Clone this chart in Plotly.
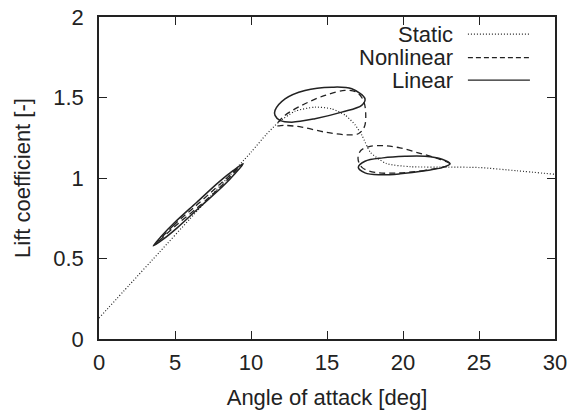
import plotly.graph_objects as go

# Static polar
static_x = [0, 2, 4, 6, 8, 10, 11, 11.8, 12.9, 14.2, 15.3, 16.2, 16.85, 17.3, 17.85, 18.9, 20.5, 23, 25, 27.5, 30]
static_y = [0.13, 0.336, 0.542, 0.748, 0.954, 1.16, 1.27, 1.345, 1.415, 1.44, 1.43, 1.39, 1.33, 1.265, 1.16, 1.09, 1.07, 1.068, 1.065, 1.045, 1.023]

# Nonlinear loops (three cases)
nl1_x = [3.75, 4.9, 6.5, 8.0, 9.2, 8.1, 6.6, 5.0, 3.75]
nl1_y = [0.592, 0.705, 0.838, 0.965, 1.068, 0.955, 0.826, 0.700, 0.592]
nl2_x = [11.69, 12.24, 13.55, 14.87, 16.18, 16.95, 17.4, 17.55, 17.45, 17.06, 16.18, 14.87, 13.34, 12.24, 11.69]
nl2_y = [1.327, 1.389, 1.461, 1.513, 1.544, 1.533, 1.48, 1.389, 1.316, 1.275, 1.269, 1.285, 1.316, 1.327, 1.327]
nl3_x = [23.09, 21.45, 19.80, 18.16, 17.30, 17.04, 17.24, 17.83, 18.82, 19.80, 21.12, 22.43, 23.09]
nl3_y = [1.085, 1.048, 1.032, 1.035, 1.066, 1.122, 1.172, 1.197, 1.200, 1.187, 1.153, 1.116, 1.085]

# Linear loops (three cases)
li1_x = [3.57, 4.10, 4.94, 6.42, 7.90, 8.84, 9.49, 8.97, 8.13, 6.64, 5.16, 4.23, 3.57]
li1_y = [0.578, 0.638, 0.720, 0.848, 0.976, 1.047, 1.089, 1.030, 0.947, 0.820, 0.692, 0.620, 0.578]
li2_x = [15.31, 16.63, 17.5, 17.28, 15.97, 14.21, 12.68, 11.91, 11.58, 11.58, 12.24, 13.55, 15.31]
li2_y = [1.564, 1.554, 1.492, 1.451, 1.409, 1.368, 1.347, 1.358, 1.389, 1.420, 1.492, 1.544, 1.564]
li3_x = [20.13, 21.45, 22.57, 23.09, 22.63, 21.45, 19.80, 18.49, 17.5, 17.06, 17.5, 18.68, 20.13]
li3_y = [1.135, 1.135, 1.116, 1.089, 1.066, 1.045, 1.026, 1.020, 1.032, 1.066, 1.104, 1.125, 1.135]

legend_labels = ["Static", "Nonlinear", "Linear"]

INK = "#222222"
FONT = "Liberation Sans, Arial, Helvetica, sans-serif"
FS = 22

fig = go.Figure()
fig.add_trace(go.Scatter(x=static_x, y=static_y, mode="lines",
                         line=dict(color=INK, width=1.2, dash="1px,2px", shape="spline", smoothing=0.6),
                         showlegend=False))
for xs, ys in [(nl1_x, nl1_y), (nl2_x, nl2_y), (nl3_x, nl3_y)]:
    fig.add_trace(go.Scatter(x=xs, y=ys, mode="lines",
                             line=dict(color=INK, width=1.3, dash="6px,4px", shape="spline", smoothing=1.0),
                             showlegend=False))
for xs, ys in [(li1_x, li1_y), (li2_x, li2_y), (li3_x, li3_y)]:
    fig.add_trace(go.Scatter(x=xs, y=ys, mode="lines",
                             line=dict(color=INK, width=1.5, shape="spline", smoothing=1.0),
                             showlegend=False))

# gnuplot-style legend (text right, sample left->right)
leg_y = [0.947, 0.874, 0.804]
dashes = ["1px,2px", "5px,3px", "solid"]
for lab, yy, d in zip(legend_labels, leg_y, dashes):
    fig.add_annotation(x=0.781, y=yy, xref="paper", yref="paper", text=lab,
                       showarrow=False, xanchor="right", yanchor="middle",
                       font=dict(size=FS, color=INK, family=FONT))
    fig.add_shape(type="line", xref="paper", yref="paper", x0=0.809, x1=0.945, y0=yy, y1=yy,
                  line=dict(color=INK, width=1.2, dash=d))

axis_common = dict(showline=True, linecolor=INK, linewidth=1.5, mirror="ticks",
                   ticks="inside", ticklen=8, tickwidth=1.2, tickcolor=INK,
                   showgrid=False, zeroline=False, automargin=False,
                   tickfont=dict(size=FS, color=INK, family=FONT))
fig.update_xaxes(range=[0, 30], tickvals=[0, 5, 10, 15, 20, 25, 30],
                 title=dict(text="Angle of attack [deg]", font=dict(size=FS, color=INK, family=FONT), standoff=16),
                 ticklabelstandoff=3, **axis_common)
fig.update_yaxes(range=[0, 2], tickvals=[0, 0.5, 1, 1.5, 2], ticktext=["0", "0.5", "1", "1.5", "2"],
                 title=dict(text="Lift coefficient [-]", font=dict(size=FS, color=INK, family=FONT), standoff=17),
                 ticklabelstandoff=9, **axis_common)

fig.update_layout(width=569, height=410, margin=dict(l=99, r=14, t=17, b=71),
                  plot_bgcolor="white", paper_bgcolor="white",
                  font=dict(family=FONT, color=INK))

fig.write_html("out.html")
